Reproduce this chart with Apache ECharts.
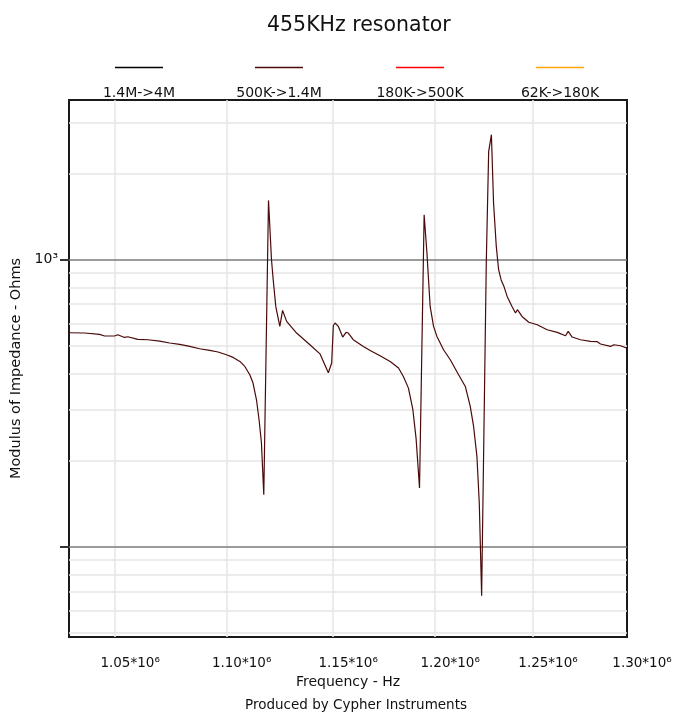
<!DOCTYPE html>
<html>
<head>
<meta charset="utf-8">
<script src="https://cdn.jsdelivr.net/npm/echarts@6/dist/echarts.min.js"></script>
<style>
  html, body { margin: 0; padding: 0; background: #fff; }
  #chart { width: 685px; height: 717px; }
</style>
</head>
<body>
<div id="chart"></div>
<script>
const seriesNames = ['1.4M->4M', '500K->1.4M', '180K->500K', '62K->180K'];
const seriesColors = ['#000000', '#4a0a0a', '#ff0000', '#ffa500'];
const legendCenters = [139, 279, 420, 560];

// frequency (Hz) and modulus of impedance (ohms)
const freqHz = [
  1029700, 1036700, 1043200, 1045400, 1049700, 1051200, 1054100, 1055600, 1060000, 1064500,
  1069700, 1074200, 1078700, 1083200, 1087700, 1092300, 1096100, 1099900, 1103000, 1106100,
  1108400, 1110700, 1112200, 1113800, 1115000, 1116100, 1117200, 1119400, 1120800, 1121600,
  1122800, 1124700, 1126000, 1127900, 1132600, 1138900, 1143700, 1147700, 1149300, 1150100,
  1150900, 1152500, 1154600, 1156200, 1157300, 1159700, 1164600, 1167900, 1172700, 1177700,
  1181800, 1184200, 1186700, 1188900, 1190500, 1192200, 1194500, 1195900, 1196700, 1197500,
  1199200, 1200900, 1204200, 1207600, 1211800, 1215200, 1217700, 1219400, 1221100, 1222300,
  1223500, 1225900, 1227100, 1228500, 1229600, 1231000, 1232200, 1233500, 1234800, 1236600,
  1239100, 1240900, 1241900, 1244300, 1247800, 1252200, 1257400, 1262700, 1267100, 1268500,
  1270600, 1275000, 1280400, 1284000, 1285700, 1291100, 1292900, 1296500, 1299800
];
const impedance = [
  556.7, 555.4, 549.2, 542.2, 542.2, 547.9, 536.1, 539.1, 527.6, 526.3,
  520.8, 512.6, 506.9, 498.8, 489.7, 483.0, 476.9, 466.7, 456.7, 442.2,
  424.8, 397.5, 371.9, 325.2, 277.0, 230.4, 151.8, 1609, 1000, 851.8,
  687.5, 585.6, 665.8, 609.6, 555.4, 505.6, 470.0, 403.9, 436.6, 590.0,
  601.8, 585.6, 537.8, 558.1, 555.4, 526.3, 498.8, 483.0, 462.9, 442.2,
  419.4, 392.1, 357.0, 300.2, 238.0, 160.2, 1435, 1055, 851.8, 687.5,
  585.6, 540.5, 485.8, 448.3, 397.5, 361.8, 308.2, 262.5, 206.4, 142.0,
  67.5, 1000, 2384, 2726, 1576, 1113, 922.9, 850.0, 812.0, 745.0,
  687.5, 652.1, 669.6, 634.5, 605.7, 593.6, 570.3, 558.1, 543.5, 562.6,
  537.8, 526.3, 519.2, 518.0, 508.5, 498.8, 505.6, 501.6, 492.4
];

const xTicks = [1050000, 1100000, 1150000, 1200000, 1250000, 1300000];
const xGridTicks = [1050000, 1100000, 1150000, 1200000, 1250000];
const yMajorTicks = [100, 1000];
const yLabelTicks = [1000];
const yMinorTicks = [50, 60, 70, 80, 90, 200, 300, 400, 500, 600, 700, 800, 900, 2000, 3000];

const FONT = 'DejaVu Sans';
const chart = echarts.init(document.getElementById('chart'));

// measure legend texts so each entry can be centred on its slot
const ctx = document.createElement('canvas').getContext('2d');
ctx.font = '14px "' + FONT + '"';

const legends = seriesNames.map((name, i) => {
  const w = Math.max(48, ctx.measureText(name).width);
  const rich = {
    t: { align: 'center', fontSize: 14, fontFamily: FONT, color: '#111', padding: [18.5, 0, 0, 0] }
  };
  rich['l' + i] = { width: 48, height: 1.5, backgroundColor: seriesColors[i], align: 'center' };
  return {
    data: [name],
    left: legendCenters[i] - 11 - w / 2,
    top: 56.5,
    itemWidth: 0,
    itemHeight: 0,
    formatter: n => '{l' + i + '|}\n{t|' + n + '}',
    textStyle: { rich }
  };
});

const trace = freqHz.map((f, i) => [f, impedance[i]]);

chart.setOption({
  backgroundColor: '#fff',
  animation: false,
  title: [
    {
      text: '455KHz resonator',
      left: 262,
      top: 10,
      textStyle: { fontFamily: FONT, fontSize: 20.5, fontWeight: 'normal', color: '#111' }
    },
    {
      text: 'Produced by Cypher Instruments',
      left: 240,
      top: 693,
      textStyle: { fontFamily: FONT, fontSize: 13.5, fontWeight: 'normal', color: '#111' }
    }
  ],
  legend: legends,
  grid: {
    left: 69, right: 58, top: 100, bottom: 80,
    show: true, borderColor: '#1a1a1a', borderWidth: 2, containLabel: false
  },
  xAxis: {
    type: 'log',
    min: 1030000,
    max: 1300000,
    name: 'Frequency - Hz',
    nameLocation: 'middle',
    nameGap: 38,
    nameTextStyle: { fontFamily: FONT, fontSize: 14, color: '#111' },
    axisLine: { show: false },
    axisTick: { show: false, customValues: xGridTicks },
    axisLabel: {
      customValues: xTicks,
      margin: 19,
      fontFamily: FONT,
      fontSize: 13.5,
      color: '#111',
      formatter: v => '{p|}' + (v / 1e6).toFixed(2) + '*10⁶',
      rich: { p: { width: 30 } }
    },
    splitLine: { show: true, lineStyle: { color: '#e6e6e6', width: 1.5 } }
  },
  yAxis: [
    {
      type: 'log',
      min: 48.5,
      max: 3600,
      name: 'Modulus of Impedance - Ohms',
      nameLocation: 'middle',
      nameGap: 40,
      nameTextStyle: { fontFamily: FONT, fontSize: 14.5, color: '#111' },
      axisLine: { show: false },
      axisTick: { show: true, inside: false, length: 9, customValues: yMajorTicks, lineStyle: { color: '#333', width: 2 } },
      axisLabel: {
        customValues: yLabelTicks,
        margin: 11,
        fontFamily: FONT,
        fontSize: 14,
        color: '#111',
        formatter: v => (v === 1000 ? '10³' : '')
      },
      splitLine: { show: true, lineStyle: { color: '#7a7a7a', width: 1.5 } },
      z: 3
    },
    {
      type: 'log',
      min: 48.5,
      max: 3600,
      position: 'left',
      axisLine: { show: false },
      axisTick: { show: false, customValues: yMinorTicks },
      axisLabel: { show: false },
      splitLine: { show: true, lineStyle: { color: '#e6e6e6', width: 1.5 } },
      z: 1
    }
  ],
  series: seriesNames.map((name, i) => ({
    name,
    type: 'line',
    data: i === 1 ? trace : [],
    showSymbol: false,
    symbol: 'none',
    lineStyle: { color: seriesColors[i], width: 1.2 },
    itemStyle: { color: seriesColors[i] },
    z: 5
  }))
});
</script>
</body>
</html>
